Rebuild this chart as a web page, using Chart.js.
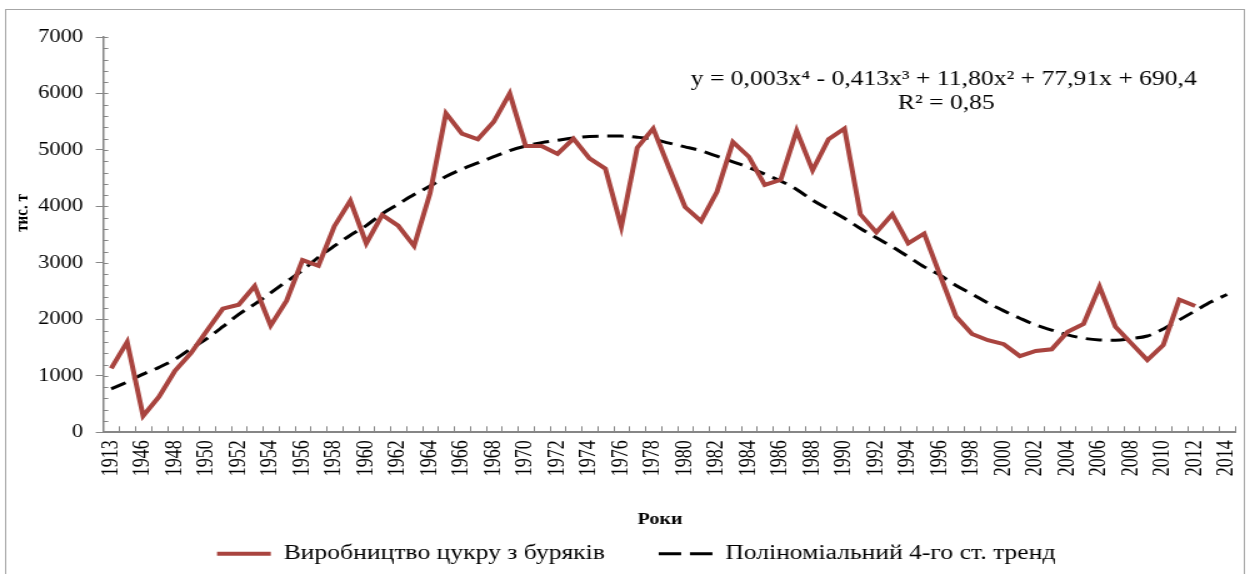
<!DOCTYPE html>
<html>
<head>
<meta charset="utf-8">
<script src="https://cdn.jsdelivr.net/npm/chart.js@4.4.1/dist/chart.umd.min.js"></script>
<style>
  html, body { margin: 0; padding: 0; background: #fff; }
  /* the source picture is an Excel chart stretched sideways, so the canvas is too */
  #chart { display: block; width: 1250px; height: 574px; }
</style>
</head>
<body>
<canvas id="chart" width="1000" height="574" style="width:1250px;height:574px"></canvas>
<script>
// роки (категорії)
var years = ['1913', '1940', '1946', '1947', '1948', '1949', '1950', '1951', '1952', '1953',
    '1954', '1955', '1956', '1957', '1958', '1959', '1960', '1961', '1962', '1963',
    '1964', '1965', '1966', '1967', '1968', '1969', '1970', '1971', '1972', '1973',
    '1974', '1975', '1976', '1977', '1978', '1979', '1980', '1981', '1982', '1983',
    '1984', '1985', '1986', '1987', '1988', '1989', '1990', '1991', '1992', '1993',
    '1994', '1995', '1996', '1997', '1998', '1999', '2000', '2001', '2002', '2003',
    '2004', '2005', '2006', '2007', '2008', '2009', '2010', '2011', '2012', '2013', '2014'];

// виробництво цукру з буряків, тис. т
var sugar = [1130, 1600, 290, 630, 1090, 1400, 1800, 2190, 2260, 2590,
    1890, 2330, 3050, 2950, 3650, 4100, 3345, 3850, 3660, 3300,
    4230, 5650, 5290, 5190, 5500, 6000, 5070, 5070, 4930, 5200,
    4850, 4670, 3640, 5040, 5380, 4680, 3990, 3740, 4260, 5140,
    4880, 4380, 4470, 5340, 4640, 5190, 5380, 3860, 3540, 3860,
    3345, 3520, 2780, 2050, 1740, 1630, 1560, 1350, 1440, 1470,
    1780, 1920, 2580, 1870, 1575, 1280, 1545, 2350, 2235, null, null];

// поліноміальний тренд
var trend = [770, 890, 1030, 1150, 1290, 1480, 1660, 1870, 2090, 2270,
    2470, 2670, 2870, 3100, 3300, 3490, 3660, 3870, 4040, 4210,
    4360, 4530, 4660, 4770, 4880, 4990, 5070, 5130, 5170, 5210,
    5240, 5245, 5245, 5225, 5190, 5120, 5055, 4985, 4890, 4790,
    4690, 4570, 4450, 4300, 4110, 3950, 3790, 3610, 3445, 3285,
    3110, 2930, 2780, 2600, 2450, 2290, 2150, 2020, 1900, 1810,
    1725, 1665, 1635, 1630, 1660, 1705, 1830, 1990, 2150, 2310, 2440];

var yTicks = [0, 1000, 2000, 3000, 4000, 5000, 6000, 7000];

var axisColor = '#868686';
var serif = "'Liberation Serif', 'Times New Roman', serif";

// рамка, дрібні поділки, підписи осей, рівняння тренду
var chartDecor = {
    id: 'chartDecor',
    afterLayout(chart) {
        // легенда в оригіналі трохи правіше від центру
        if (chart.legend) {
            chart.legend.left += 15;
            chart.legend.right += 15;
        }
    },
    beforeDraw(chart) {
        const ctx = chart.ctx;
        ctx.save();
        ctx.strokeStyle = '#a6a6a6';
        ctx.lineWidth = 1;
        ctx.strokeRect(4.5, 9.5, 991, 600);
        ctx.restore();
    },
    afterDraw(chart) {
        const ctx = chart.ctx;
        const x = chart.scales.x;
        const y = chart.scales.y;
        ctx.save();
        ctx.strokeStyle = axisColor;
        ctx.lineWidth = 1;
        ctx.beginPath();
        // поділки осі Y всередину, через 200
        for (let v = 200; v <= 7000; v += 200) {
            const py = Math.round(y.getPixelForValue(v)) + 0.5;
            ctx.moveTo(x.left, py);
            ctx.lineTo(x.left + 4, py);
        }
        // поділки осі X між категоріями
        const half = (x.getPixelForValue(1) - x.getPixelForValue(0)) / 2;
        for (let i = 0; i < years.length; i++) {
            const px = Math.round(x.getPixelForValue(i) + half) + 0.5;
            ctx.moveTo(px, y.bottom);
            ctx.lineTo(px, y.bottom - 6);
        }
        ctx.stroke();

        ctx.fillStyle = '#000';
        ctx.textAlign = 'center';
        ctx.textBaseline = 'middle';

        ctx.font = 'bold 16px ' + serif;
        ctx.fillText('Роки', 528, 520);

        ctx.save();
        ctx.translate(18, 213);
        ctx.rotate(-Math.PI / 2);
        ctx.font = 'bold 15px ' + serif;
        ctx.fillText('тис. т', 0, 0);
        ctx.restore();

        ctx.font = '20.5px ' + serif;
        ctx.fillText('y = 0,003x⁴ - 0,413x³ + 11,80x² + 77,91x + 690,4', 755, 80);
        ctx.fillText('R² = 0,85', 757, 104);
        ctx.restore();
    }
};

var ctx = document.getElementById('chart').getContext('2d');
window.chartInstance = new Chart(ctx, {
    type: 'line',
    data: {
        labels: years,
        datasets: [{
            label: 'Виробництво цукру з буряків',
            data: sugar,
            borderColor: '#A9443F',
            backgroundColor: '#A9443F',
            borderWidth: 4,
            pointRadius: 0,
            pointStyle: 'line',
            tension: 0,
            spanGaps: false
        }, {
            label: 'Поліноміальний 4-го ст. тренд',
            data: trend,
            borderColor: '#000',
            backgroundColor: '#000',
            borderWidth: 3,
            borderDash: [13, 7],
            pointRadius: 0,
            pointStyle: 'line',
            cubicInterpolationMode: 'monotone'
        }]
    },
    options: {
        responsive: false,
        maintainAspectRatio: false,
        animation: false,
        layout: {
            padding: { left: 0, right: 12, top: 37, bottom: 0 }
        },
        scales: {
            x: {
                offset: true,
                grid: {
                    offset: true,
                    drawOnChartArea: false,
                    drawTicks: false
                },
                border: { color: axisColor, width: 2 },
                ticks: {
                    autoSkip: false,
                    minRotation: 90,
                    maxRotation: 90,
                    padding: 8,
                    color: '#000',
                    font: { family: serif, size: 18 },
                    callback: function (value, index) {
                        return index % 2 === 0 ? years[index] : '';
                    }
                },
                afterFit: function (scale) {
                    const legendH = scale.chart.legend ? scale.chart.legend.height : 0;
                    scale.height = scale.chart.height - 432.3 - legendH;
                    scale.paddingLeft = 0;
                    scale.paddingRight = 0;
                }
            },
            y: {
                min: 0,
                max: 7000,
                afterBuildTicks: function (scale) {
                    scale.ticks = yTicks.map(v => ({ value: v }));
                },
                grid: {
                    drawOnChartArea: false,
                    tickLength: 6,
                    color: axisColor
                },
                border: { color: axisColor, width: 1.5 },
                ticks: {
                    padding: 10,
                    color: '#000',
                    font: { family: serif, size: 18 },
                    callback: function (value) {
                        return String(value);
                    }
                },
                afterFit: function (scale) {
                    scale.width = 82.6;
                }
            }
        },
        plugins: {
            legend: {
                display: true,
                position: 'bottom',
                labels: {
                    usePointStyle: true,
                    pointStyleWidth: 43,
                    padding: 43,
                    color: '#000',
                    font: { family: serif, size: 20.5 },
                    generateLabels: function (chart) {
                        const items = Chart.defaults.plugins.legend.labels.generateLabels(chart);
                        items.forEach(function (item, i) {
                            const ds = chart.data.datasets[i];
                            item.strokeStyle = ds.borderColor;
                            item.lineWidth = ds.borderWidth;
                            item.lineDash = ds.borderDash ? [18, 7] : [];
                        });
                        return items;
                    }
                }
            },
            title: { display: false },
            tooltip: { enabled: false }
        }
    },
    plugins: [chartDecor]
});
</script>
</body>
</html>
